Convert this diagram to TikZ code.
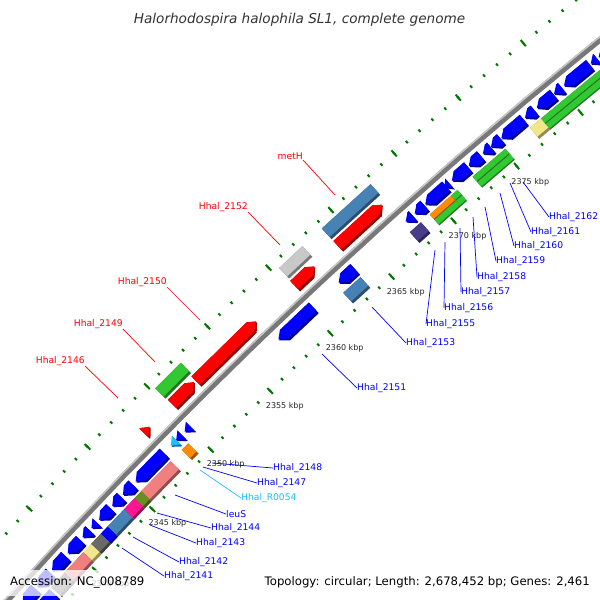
\documentclass[tikz,border=0pt]{standalone}
\usepackage{fontspec}
\setmainfont{DejaVu Sans}

\definecolor{cdsblue}{RGB}{0,0,255}
\definecolor{cdsred}{RGB}{255,0,0}
\definecolor{coggreen}{RGB}{50,200,50}
\definecolor{cogsteel}{RGB}{70,130,180}
\definecolor{coggray}{RGB}{200,200,200}
\definecolor{cogpink}{RGB}{240,128,128}
\definecolor{cogkhaki}{RGB}{240,230,140}
\definecolor{cogdark}{RGB}{105,105,105}
\definecolor{cogolive}{RGB}{107,142,35}
\definecolor{cogmagenta}{RGB}{255,20,147}
\definecolor{cogorange}{RGB}{255,140,0}
\definecolor{cogpurple}{RGB}{72,61,139}
\definecolor{trnacyan}{RGB}{30,190,255}
\definecolor{tickgreen}{RGB}{0,120,0}
\definecolor{backgray}{RGB}{120,120,120}
\definecolor{backlight}{RGB}{200,200,200}

% a box on the map, between two picture points, from radius #6, #7 thick
\newcommand{\genebox}[7]{%
  \pgfmathsetmacro\ga{atan2(#3-4040,#2-3824)}%
  \pgfmathsetmacro\gb{atan2(#5-4040,#4-3824)}%
  \fill[#1!60!black] ({\ga}:{#6}) -- ({\gb}:{#6}) -- ({\gb}:{#6+#7}) -- ({\ga}:{#6+#7}) -- cycle;
  \fill[#1] ({\ga}:{#6+0.2*#7}) -- ({\gb}:{#6+0.2*#7}) -- ({\gb}:{#6+#7}) -- ({\ga}:{#6+#7}) -- cycle;
}
% an arrow on the map, tip at the second point, from radius #6, 14.5 thick
\newcommand{\genearrow}[6]{%
  \pgfmathsetmacro\ga{atan2(#3-4040,#2-3824)}%
  \pgfmathsetmacro\gb{atan2(#5-4040,#4-3824)}%
  \pgfmathsetmacro\gh{\gb+sign(\ga-\gb)*min(0.085,abs(\ga-\gb))}%
  \fill[#1!60!black] ({\ga}:{#6}) -- ({\gh}:{#6}) -- ({\gb}:{#6+7.25}) -- ({\gh}:{#6+14.5}) -- ({\ga}:{#6+14.5}) -- cycle;
  \fill[#1] ({\ga}:{#6+3}) -- ({\gh}:{#6+3}) -- ({\gb}:{#6+8.75}) -- ({\gh}:{#6+14.5}) -- ({\ga}:{#6+14.5}) -- cycle;
}

\begin{document}
\begin{tikzpicture}[x=1pt,y=-1pt,
  lblout/.style={font=\fontsize{9.2}{11}\selectfont, text=red, inner sep=0pt, anchor=south east},
  lblin/.style={font=\fontsize{9.2}{11}\selectfont, text=blue, inner sep=0pt, anchor=west},
  kbp/.style={font=\fontsize{8}{10}\selectfont, text=black!85, inner sep=0pt},
  tickline/.style={draw=tickgreen, line width=2pt},
  legend/.style={font=\fontsize{11.7}{14}\selectfont, inner sep=0pt}]

\useasboundingbox (0,0) rectangle (600,600);
\clip (0,0) rectangle (600,600);
\fill[white] (0,0) rectangle (600,600);

\begin{scope}[shift={(3824,4040)}]
% backbone
\draw[line width=6pt, color=backgray] plot[domain=-139:-127, samples=50] (\x:5138);
\draw[line width=1.5pt, color=backlight] plot[domain=-139:-127, samples=50] (\x:5140.3);

% ruler ticks, inside and outside
\foreach \k in {2334,...,2387}{
  \pgfmathsetmacro\ta{-136.12+0.1877*(\k-2345)}
  \draw[tickline] (\ta:5092.5) -- (\ta:5095.5) (\ta:5182.5) -- (\ta:5185.5);
}
\foreach \k in {2335,2340,...,2385}{
  \pgfmathsetmacro\ta{-136.12+0.1877*(\k-2345)}
  \draw[tickline] (\ta:5090) -- (\ta:5098) (\ta:5180) -- (\ta:5188);
}
\foreach \k in {2340,2345,...,2375}{
  \pgfmathsetmacro\ta{-136.12+0.1877*(\k-2345)}
  \node[kbp] (k\k) at (\ta:5073) {\k\ kbp};
}

% forward strand
\genearrow{cdsred}{143}{432}{149}{426}{5145}
\genearrow{cdsred}{171.5}{403.5}{193.5}{381.5}{5145}
\genearrow{cdsred}{196.5}{381.5}{256.5}{321.5}{5145}
\genearrow{cdsred}{295.5}{286.5}{314.5}{266.5}{5145}
\genearrow{cdsred}{338.5}{246.5}{383.5}{206.5}{5145}
\genebox{coggreen}{158.5}{391.5}{184.5}{366.5}{5162}{14.5}
\genebox{coggray}{284.5}{273.5}{306.5}{250.5}{5162}{14.5}
\genebox{cogsteel}{326.5}{233.5}{374.5}{188.5}{5162}{14.5}

% reverse strand
\genearrow{cdsblue}{610}{38}{596}{54}{5116.5}
\genearrow{cdsblue}{595}{56}{591}{64}{5116.5}
\genearrow{cdsblue}{590}{65}{565}{87}{5116.5}
\genearrow{cdsblue}{562}{88}{555}{95}{5116.5}
\genearrow{cdsblue}{554}{95}{536}{107}{5116.5}
\genearrow{cdsblue}{535}{111}{526}{119}{5116.5}
\genearrow{cdsblue}{524}{120}{503}{140}{5116.5}
\genearrow{cdsblue}{500}{138}{491}{147}{5116.5}
\genearrow{cdsblue}{489}{145}{483}{154}{5116.5}
\genearrow{cdsblue}{480}{155}{468}{165}{5116.5}
\genearrow{cdsblue}{467}{166}{453}{182}{5116.5}
\genearrow{cdsblue}{449}{183}{446}{189}{5116.5}
\genearrow{cdsblue}{445}{185}{425}{204}{5116.5}
\genearrow{cdsblue}{424}{205}{415}{214}{5116.5}
\genearrow{cdsblue}{412}{215}{406}{222}{5116.5}
\genearrow{cdsblue}{354}{268}{338}{282}{5116.5}
\genearrow{cdsblue}{312}{306}{278}{339}{5116.5}
\genearrow{cdsblue}{189}{425}{183}{430}{5116.5}
\genearrow{cdsblue}{180}{433}{175}{439}{5116.5}
\genearrow{trnacyan}{173}{437}{168}{443}{5116.5}
\genearrow{cdsblue}{162}{451}{133}{479}{5116.5}
\genearrow{cdsblue}{130}{482}{120}{492}{5116.5}
\genearrow{cdsblue}{118}{494}{109}{503}{5116.5}
\genearrow{cdsblue}{107}{505}{95.5}{516.5}{5116.5}
\genearrow{cdsblue}{93}{519}{87.5}{524.5}{5116.5}
\genearrow{cdsblue}{85.5}{526.5}{78.5}{533.5}{5116.5}
\genearrow{cdsblue}{76}{536}{63}{549}{5116.5}
\genearrow{cdsblue}{60.5}{551.5}{46.5}{565.5}{5116.5}
\genearrow{cdsblue}{44.5}{567.5}{31}{581}{5116.5}
\genearrow{cdsblue}{29}{583}{15.5}{596.5}{5116.5}
\genearrow{cdsblue}{13}{599}{-1}{613}{5116.5}

\genebox{coggreen}{546.5}{125.5}{573}{100}{5107.25}{7.25}
\genebox{coggreen}{546.5}{125.5}{573}{100}{5100}{7.25}
\genebox{coggreen}{573}{100}{610}{66}{5107.25}{7.25}
\genebox{coggreen}{573}{100}{610}{66}{5100}{7.25}
\genebox{cogkhaki}{535.5}{134.5}{546.5}{125.5}{5100}{14.5}
\genebox{coggreen}{478.5}{183.5}{498}{165}{5107.25}{7.25}
\genebox{coggreen}{478.5}{183.5}{498}{165}{5100}{7.25}
\genebox{coggreen}{498}{165}{509.5}{153.5}{5107.25}{7.25}
\genebox{coggreen}{498}{165}{509.5}{153.5}{5100}{7.25}
\genebox{cogorange}{433.5}{218.5}{455}{200}{5107.25}{7.25}
\genebox{coggreen}{433.5}{218.5}{455}{200}{5100}{7.25}
\genebox{coggreen}{455}{200}{461.5}{194.5}{5107.25}{7.25}
\genebox{coggreen}{455}{200}{461.5}{194.5}{5100}{7.25}
\genebox{cogpurple}{415.5}{238.5}{426.5}{228.5}{5100}{14.5}
\genebox{cogsteel}{348.5}{298.5}{364.5}{281.5}{5100}{14.5}
\genebox{cogorange}{185.5}{453.5}{191.5}{446.5}{5100}{14.5}
\genebox{cogpink}{143}{493}{173}{463.5}{5100}{14.5}
\genebox{cogolive}{137}{501}{143}{493}{5100}{14.5}
\genebox{cogmagenta}{126}{511}{137}{501}{5100}{14.5}
\genebox{cogsteel}{111}{530}{126}{511}{5100}{14.5}
\genebox{cdsblue}{103}{536}{111}{530}{5100}{14.5}
\genebox{cogdark}{93}{546}{103}{536}{5100}{14.5}
\genebox{cogkhaki}{85}{554}{93}{546}{5100}{14.5}
\genebox{cogpink}{66}{574}{85}{554}{5100}{14.5}
\genebox{cogdark}{52}{588}{66}{574}{5100}{14.5}
\genebox{cdsblue}{35}{605}{50}{590}{5100}{14.5}
\end{scope}

% labels outside
\coordinate (cmetH) at (335,195);
\coordinate (c2152) at (280,245);
\coordinate (c2150) at (200,320);
\coordinate (c2149) at (155,362);
\coordinate (c2146) at (118,398);
\node[lblout] (lmetH) at (303,160) {metH};
\node[lblout] (l2152) at (248,212) {Hhal\_2152};
\node[lblout] (l2150) at (167,287) {Hhal\_2150};
\node[lblout] (l2149) at (123,329) {Hhal\_2149};
\node[lblout] (l2146) at (85,366) {Hhal\_2146};
\draw[red, line width=0.7pt] (lmetH.south east) -- (cmetH);
\draw[red, line width=0.7pt] (l2152.south east) -- (c2152);
\draw[red, line width=0.7pt] (l2150.south east) -- (c2150);
\draw[red, line width=0.7pt] (l2149.south east) -- (c2149);
\draw[red, line width=0.7pt] (l2146.south east) -- (c2146);

% labels inside
\coordinate (c2162) at (523,182);
\coordinate (c2161) at (510,183);
\coordinate (c2160) at (500,193);
\coordinate (c2159) at (485,207);
\coordinate (c2158) at (473,217);
\coordinate (c2157) at (460,228);
\coordinate (c2156) at (445,242);
\coordinate (c2155) at (435,250);
\coordinate (c2153) at (372,307);
\coordinate (c2151) at (322,354);
\coordinate (c2148) at (212,463);
\coordinate (c2147) at (203,467);
\coordinate (cR0054) at (200,470);
\coordinate (cleuS) at (175,495);
\coordinate (c2144) at (157,513);
\coordinate (c2143) at (150,525);
\coordinate (c2142) at (133,537);
\coordinate (c2141) at (122,548);
\node[lblin] (l2162) at (549,217) {Hhal\_2162};
\node[lblin] (l2161) at (531,232) {Hhal\_2161};
\node[lblin] (l2160) at (514,246) {Hhal\_2160};
\node[lblin] (l2159) at (496,261) {Hhal\_2159};
\node[lblin] (l2158) at (477,277) {Hhal\_2158};
\node[lblin] (l2157) at (461,292) {Hhal\_2157};
\node[lblin] (l2156) at (444,308) {Hhal\_2156};
\node[lblin] (l2155) at (426,324) {Hhal\_2155};
\node[lblin] (l2153) at (406,343) {Hhal\_2153};
\node[lblin] (l2151) at (357,388) {Hhal\_2151};
\node[lblin] (l2148) at (273,468) {Hhal\_2148};
\node[lblin] (l2147) at (257,483) {Hhal\_2147};
\node[lblin, text=trnacyan] (lR0054) at (241,498) {Hhal\_R0054};
\node[lblin] (lleuS) at (226,514) {leuS};
\node[lblin] (l2144) at (211,528) {Hhal\_2144};
\node[lblin] (l2143) at (196,543) {Hhal\_2143};
\node[lblin] (l2142) at (179,562) {Hhal\_2142};
\node[lblin] (l2141) at (164,576) {Hhal\_2141};
\foreach \g in {2162,2161,2160,2159,2158,2157,2156,2155,2153,2151,2148,2147,leuS,2144,2143,2142,2141}
  \draw[blue, line width=0.7pt] (c\g) -- (l\g.west);
\draw[trnacyan, line width=0.7pt] (cR0054) -- (lR0054.west);

% title and legend
\node[font=\fontsize{13.6}{16}\selectfont\itshape, text=black!80, inner sep=0pt, anchor=base] (title) at (299.5,23) {Halorhodospira halophila SL1, complete genome};
\fill[white, opacity=0.75] (0,570) rectangle (152,596);
\node[legend, anchor=base west] (acc) at (10,585.5) {Accession: NC\_008789};
\node[legend, anchor=base east] (topo) at (590,585.5) {Topology: circular; Length: 2,678,452 bp; Genes: 2,461};
\end{tikzpicture}
\end{document}
